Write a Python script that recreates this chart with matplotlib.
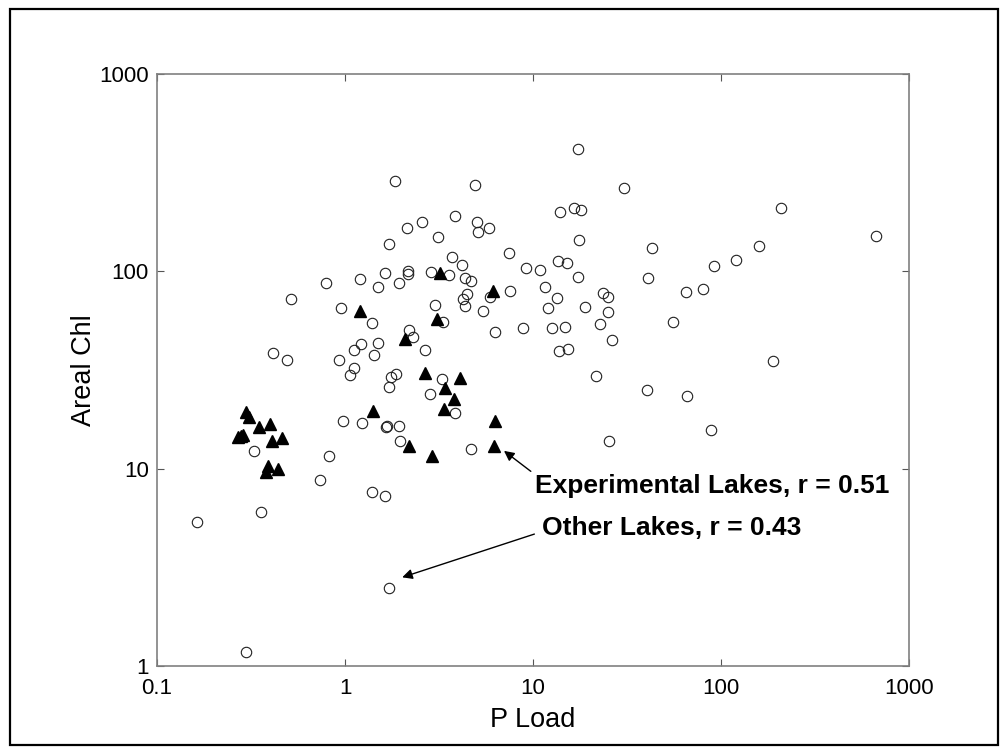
import matplotlib.pyplot as plt
from matplotlib.patches import Rectangle

plt.rcParams['font.family'] = ['Liberation Sans', 'DejaVu Sans']

# other lakes (open circles)
other_load = [1.85, 4.91, 3.86, 2.58, 5.02, 5.07, 5.86, 2.14, 3.11, 1.72,
              7.42, 3.72, 4.19, 9.15, 10.9, 1.63, 2.17, 2.15, 2.85, 3.56,
              0.792, 1.20, 1.50, 1.94, 4.35, 4.65, 0.518, 4.44, 4.26, 4.36,
              5.93, 7.57, 0.955, 3.02, 5.42, 1.39, 3.34, 2.18, 2.30, 6.29,
              8.88, 0.413, 0.491, 0.929, 1.12, 1.22, 1.50, 1.42, 2.65, 1.12,
              1.06, 1.76, 1.86, 3.27, 1.72, 2.84, 3.83, 0.979, 1.23, 1.65,
              1.68, 1.93, 1.97, 0.326, 0.819, 4.67, 0.736, 1.39, 1.63, 0.356,
              0.164, 1.71, 0.297, 17.3, 30.5, 13.9, 16.6, 18.1, 209, 668,
              17.6, 42.8, 159, 120, 91.5, 13.5, 15.1, 17.3, 41.1, 11.6,
              13.4, 12.0, 18.8, 25.2, 23.6, 25.2, 64.9, 80.2, 22.8, 55.6,
              12.6, 14.8, 26.3, 13.8, 15.3, 189, 21.6, 40.6, 66.2, 88.5,
              25.5]
other_chl = [287, 274, 191, 179, 178, 159, 167, 167, 149, 137,
             124, 118, 108, 104, 102, 97.9, 101, 97.1, 99.1, 96.0,
             87.2, 91.6, 83.8, 87.2, 92.7, 90.0, 72.8, 76.5, 72.6, 67.1,
             74.5, 79.7, 65.6, 67.4, 63.1, 55.0, 55.4, 50.6, 46.4, 49.4,
             51.9, 38.5, 35.8, 35.6, 40.2, 42.8, 43.5, 37.8, 40.2, 32.3,
             29.9, 29.2, 30.3, 28.6, 25.9, 23.9, 19.2, 17.4, 17.1, 16.4,
             16.6, 16.6, 13.8, 12.3, 11.7, 12.6, 8.80, 7.62, 7.30, 6.08,
             5.37, 2.49, 1.18, 417, 264, 201, 209, 205, 209, 152,
             145, 131, 134, 114, 106, 113, 110, 93.5, 92.4, 83.8,
             73.2, 65.1, 66.1, 74.0, 78.1, 62.4, 78.8, 81.5, 54.0, 55.5,
             51.9, 52.4, 45.1, 39.7, 40.4, 35.3, 29.7, 25.2, 23.5, 15.8,
             13.9]

# experimental lakes (filled triangles)
ela_load = [3.20, 6.11, 1.20, 3.07, 2.09, 2.67, 4.09, 3.40, 3.79, 3.38,
            6.30, 6.20, 1.40, 2.20, 2.91, 0.299, 0.309, 0.349, 0.399, 0.268,
            0.278, 0.287, 0.408, 0.461, 0.388, 0.379, 0.439]
ela_chl = [97.9, 80.1, 62.9, 57.3, 45.7, 30.7, 28.8, 25.8, 22.5, 20.1,
           17.6, 13.0, 19.6, 13.1, 11.7, 19.5, 18.4, 16.3, 16.9, 14.5,
           14.7, 14.8, 13.9, 14.4, 10.4, 9.62, 10.0]

fig = plt.figure(figsize=(10.08, 7.52), dpi=100)
ax = fig.add_axes([0.1558, 0.1137, 0.746, 0.7879])

ax.plot(other_load, other_chl, 'o', ls='none', ms=7.5, mfc='none',
        mec='#202020', mew=0.8)
ax.plot(ela_load, ela_chl, '^', ls='none', ms=8, color='k')

ax.set_xscale('log')
ax.set_yscale('log')
ax.set_xlim(0.1, 1000)
ax.set_ylim(1, 1000)
ax.set_xticks([0.1, 1, 10, 100, 1000])
ax.set_xticklabels(['0.1', '1', '10', '100', '1000'])
ax.set_yticks([1, 10, 100, 1000])
ax.set_yticklabels(['1', '10', '100', '1000'])
ax.minorticks_off()
ax.tick_params(direction='in', length=5, width=0.8, color='#555555',
               top=True, right=True, labelsize=16, pad=6)
ax.tick_params(axis='x', pad=8)
for s in ax.spines.values():
    s.set_color('#808080')
    s.set_linewidth(1.2)

ax.set_xlabel('P Load', fontsize=19.5, labelpad=6)
ax.set_ylabel('Areal Chl', fontsize=19.5, labelpad=1.5)

ax.annotate('', xy=(6.82, 12.6), xytext=(10.0, 9.54),
            arrowprops=dict(arrowstyle='-|>', color='k', lw=1, mutation_scale=15))
ax.annotate('', xy=(1.95, 2.80), xytext=(10.5, 4.73),
            arrowprops=dict(arrowstyle='-|>', color='k', lw=1, mutation_scale=15))
ax.text(10.25, 8.2, 'Experimental Lakes, r = 0.51', fontsize=19,
        fontweight='bold', ha='left', va='center')
ax.text(11.1, 5.03, 'Other Lakes, r = 0.43', fontsize=19,
        fontweight='bold', ha='left', va='center')

fig.patches.append(Rectangle((10 / 1008, 7 / 752), 988 / 1008, 736 / 752,
                             transform=fig.transFigure, fill=False,
                             edgecolor='k', lw=1.6))

fig.savefig('out.png', dpi=100)
